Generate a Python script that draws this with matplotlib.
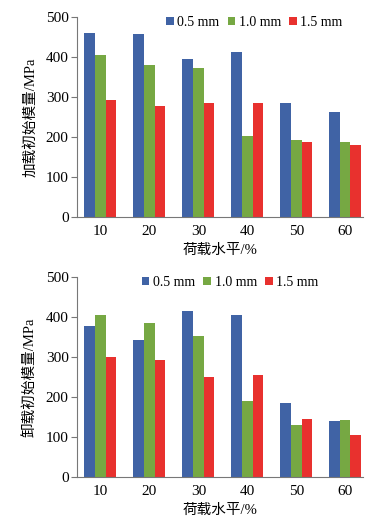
import matplotlib.pyplot as plt
import numpy as np

# load levels (%) and initial modulus (MPa) for the three sizes
levels = ["10", "20", "30", "40", "50", "60"]
sizes = ["0.5 mm", "1.0 mm", "1.5 mm"]
colors = ["#4063a5", "#76a843", "#e8312e"]

loading_05 = [460, 458, 395, 414, 285, 262]
loading_10 = [406, 381, 373, 204, 193, 187]
loading_15 = [293, 279, 285, 286, 188, 180]

unloading_05 = [379, 344, 416, 406, 186, 141]
unloading_10 = [406, 385, 352, 190, 131, 142]
unloading_15 = [301, 293, 250, 255, 145, 104]

fam = ["Liberation Serif", "Noto Sans CJK SC"]
plt.rcParams["font.family"] = fam


def draw(ax, series, ylabel, legend_x):
    x = np.arange(len(levels))
    w = 0.218
    for i, vals in enumerate(series):
        ax.bar(x + (i - 1) * w, vals, width=w, color=colors[i], label=sizes[i])
    ax.set_xlim(-0.48, 5.36)
    ax.set_ylim(0, 500)
    ax.set_yticks([0, 100, 200, 300, 400, 500])
    ax.set_xticks(x)
    ax.set_xticklabels(levels)
    ax.tick_params(axis="x", length=0, labelsize=11, pad=6)
    ax.tick_params(axis="y", length=4, width=0.8, color="#777777", labelsize=11, pad=2)
    for s in ["top", "right"]:
        ax.spines[s].set_visible(False)
    for s in ["left", "bottom"]:
        ax.spines[s].set_color("#777777")
        ax.spines[s].set_linewidth(0.8)
    ax.set_xlabel("荷载水平/%", fontsize=10.5, labelpad=4)
    ax.set_ylabel(ylabel, fontsize=10.5, labelpad=6)
    ax.legend(loc="center right", bbox_to_anchor=(legend_x, 0.975), ncol=3,
              frameon=False, fontsize=10, handlelength=0.55, handleheight=0.55,
              handletextpad=0.25, columnspacing=0.6, borderaxespad=0, borderpad=0)


fig = plt.figure(figsize=(3.82, 5.23), dpi=100)
ax1 = fig.add_axes([0.2016, 0.585, 0.748, 0.382])
ax2 = fig.add_axes([0.2016, 0.088, 0.748, 0.382])

draw(ax1, [loading_05, loading_10, loading_15], "加载初始模量/MPa", 0.93)
draw(ax2, [unloading_05, unloading_10, unloading_15], "卸载初始模量/MPa", 0.845)

fig.savefig("out.png", dpi=100)
